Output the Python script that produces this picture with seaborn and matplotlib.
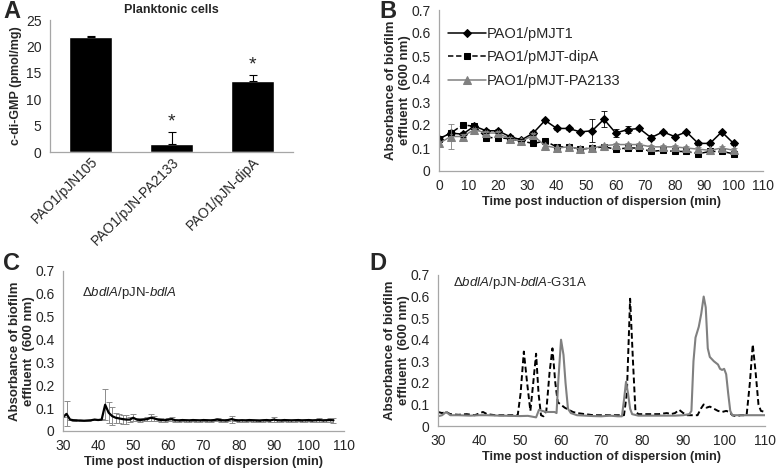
import numpy as np
import pandas as pd
import matplotlib
matplotlib.use('Agg')
import matplotlib.pyplot as plt
import seaborn as sns

# ---- Panel A: planktonic c-di-GMP
strains = ["PAO1/pJN105", "PAO1/pJN-PA2133", "PAO1/pJN-dipA"]
cdg_mean = [21.7, 1.5, 13.4]
cdg_err = [0.2, 2.3, 1.1]
cdg_star = [False, True, True]

# ---- Panel B: dispersion time course
b_time = [0, 4, 8, 12, 16, 20, 24, 28, 32, 36, 40, 44, 48, 52, 56, 60, 64, 68, 72, 76, 80, 84, 88, 92, 96, 100]
b_pmjt1 = [0.14, 0.165, 0.16, 0.195, 0.175, 0.175, 0.15, 0.135, 0.165, 0.22, 0.185, 0.185, 0.17,
           0.175, 0.225, 0.165, 0.18, 0.185, 0.145, 0.17, 0.15, 0.17, 0.12, 0.12, 0.17, 0.12]
b_pmjt1_err = [0.01, 0.01, 0.01, 0.008, 0.008, 0.008, 0.006, 0.006, 0.008, 0.006, 0.006, 0.006, 0.005,
               0.05, 0.035, 0.018, 0.015, 0.008, 0.012, 0.006, 0.006, 0.006, 0.006, 0.006, 0.006, 0.006]
b_dipa = [0.14, 0.165, 0.2, 0.195, 0.145, 0.145, 0.14, 0.13, 0.12, 0.13, 0.105, 0.105, 0.095,
          0.1, 0.105, 0.095, 0.1, 0.1, 0.085, 0.09, 0.085, 0.085, 0.075, 0.085, 0.085, 0.075]
b_pa2133 = [0.12, 0.15, 0.15, 0.18, 0.165, 0.165, 0.14, 0.13, 0.155, 0.11, 0.1, 0.105, 0.095,
            0.1, 0.11, 0.115, 0.115, 0.115, 0.105, 0.105, 0.105, 0.1, 0.095, 0.09, 0.1, 0.09]
b_pa2133_err = [0.01, 0.055, 0.01, 0.008, 0.008, 0.008, 0.006, 0.006, 0.01, 0.006, 0.005, 0.005, 0.005,
                0.005, 0.006, 0.008, 0.008, 0.008, 0.008, 0.006, 0.008, 0.008, 0.008, 0.006, 0.01, 0.008]

# ---- Panel C: dBdlA/pJN-bdlA
c_time = [30, 31, 32, 33, 34, 35, 36, 37, 38, 39, 40, 41, 42, 43, 44, 45, 46, 47, 48, 49,
          50, 51, 52, 53, 54, 55, 56, 57, 58, 59, 60, 61, 62, 63, 64, 65, 66, 67, 68, 69,
          70, 71, 72, 73, 74, 75, 76, 77, 78, 79, 80, 81, 82, 83, 84, 85, 86, 87, 88, 89,
          90, 91, 92, 93, 94, 95, 96, 97, 98, 99, 100, 101, 102, 103, 104, 105, 106, 107]
c_abs = [0.06, 0.075, 0.05, 0.047, 0.046, 0.046, 0.045, 0.046, 0.047, 0.05, 0.048, 0.05, 0.115, 0.08,
         0.065, 0.058, 0.055, 0.052, 0.05, 0.05, 0.058, 0.05, 0.048, 0.05, 0.052, 0.058, 0.055, 0.05,
         0.048, 0.047, 0.05, 0.052, 0.047, 0.046, 0.048, 0.047, 0.046, 0.048, 0.047, 0.046, 0.048, 0.047,
         0.046, 0.048, 0.05, 0.047, 0.046, 0.048, 0.052, 0.048, 0.046, 0.047, 0.046, 0.048, 0.047, 0.046,
         0.045, 0.047, 0.048, 0.046, 0.05, 0.047, 0.046, 0.048, 0.047, 0.046, 0.047, 0.048, 0.046, 0.047,
         0.048, 0.046, 0.047, 0.048, 0.046, 0.047, 0.048, 0.047]
c_err = [0.0, 0.055, 0.0, 0.004, 0.0, 0.004, 0.0, 0.004, 0.0, 0.004, 0.0, 0.004, 0.068, 0.045,
         0.04, 0.022, 0.02, 0.02, 0.02, 0.01, 0.015, 0.008, 0.008, 0.008, 0.008, 0.015, 0.012, 0.008,
         0.008, 0.006, 0.008, 0.01, 0.006, 0.006, 0.006, 0.006, 0.006, 0.006, 0.006, 0.006, 0.006, 0.006,
         0.006, 0.006, 0.008, 0.006, 0.006, 0.006, 0.015, 0.006, 0.006, 0.006, 0.006, 0.006, 0.006, 0.006,
         0.006, 0.006, 0.006, 0.006, 0.012, 0.006, 0.006, 0.006, 0.006, 0.006, 0.006, 0.006, 0.006, 0.006,
         0.006, 0.006, 0.006, 0.008, 0.006, 0.006, 0.01, 0.012]

# ---- Panel D: dBdlA/pJN-bdlA-G31A (two runs)
d_dash_time = [30, 31, 32, 33, 35, 37, 39, 41, 42, 44, 46, 48, 49.5, 50.2, 51, 51.8, 52.6, 53.3, 54,
               54.6, 55.2, 55.8, 56.5, 57.3, 58, 58.7, 59.3, 60, 61, 62, 63, 64, 66, 68, 70, 72, 74,
               75.5, 76.2, 77, 77.7, 78.3, 79, 82, 84, 86, 87, 88, 89, 90, 91, 92, 93.5, 94.3, 95,
               95.7, 96.5, 97.5, 98.5, 99.5, 100.5, 101.3, 102, 103, 104, 105.5, 106.3, 107, 107.7,
               108.4, 109, 110]
d_dash_abs = [0.065, 0.06, 0.065, 0.055, 0.052, 0.055, 0.05, 0.065, 0.055, 0.05, 0.05, 0.05, 0.05, 0.15,
              0.345, 0.2, 0.07, 0.2, 0.335, 0.15, 0.05, 0.045, 0.07, 0.25, 0.36, 0.2, 0.11, 0.1, 0.085,
              0.075, 0.065, 0.06, 0.055, 0.05, 0.05, 0.05, 0.05, 0.05, 0.15, 0.59, 0.3, 0.07, 0.055,
              0.055, 0.055, 0.06, 0.055, 0.06, 0.075, 0.06, 0.05, 0.05, 0.05, 0.08, 0.1, 0.085, 0.09,
              0.08, 0.07, 0.065, 0.07, 0.065, 0.05, 0.045, 0.05, 0.05, 0.2, 0.378, 0.25, 0.1, 0.07, 0.065]
d_gray_time = [30, 31, 32, 33, 35, 38, 40, 42, 45, 48, 50, 52, 54, 54.7, 55.5, 56.5, 57.5, 58.5, 59,
               59.4, 60.1, 60.7, 61.2, 61.8, 62.5, 64, 66, 68, 70, 72, 74, 75, 75.5, 76, 76.5, 77,
               77.5, 79, 82, 85, 88, 90, 91.5, 92, 92.5, 93, 93.8, 94.4, 95, 95.5, 96, 96.5, 97.5,
               98.5, 99, 99.5, 100, 100.5, 101, 101.5, 102, 104, 107, 110]
d_gray_abs = [0.045, 0.05, 0.065, 0.05, 0.05, 0.048, 0.05, 0.05, 0.048, 0.047, 0.046, 0.047, 0.04,
              0.075, 0.07, 0.065, 0.065, 0.065, 0.06, 0.2, 0.4, 0.33, 0.2, 0.08, 0.06, 0.05, 0.048,
              0.046, 0.045, 0.048, 0.045, 0.045, 0.12, 0.205, 0.15, 0.08, 0.055, 0.048, 0.048, 0.048,
              0.048, 0.05, 0.055, 0.07, 0.3, 0.41, 0.46, 0.52, 0.6, 0.55, 0.36, 0.32, 0.3, 0.285,
              0.265, 0.26, 0.265, 0.24, 0.15, 0.07, 0.05, 0.05, 0.05, 0.05]

sns.set_style("white")
plt.rcParams['font.family'] = ['Liberation Sans', 'DejaVu Sans']
plt.rcParams['mathtext.fontset'] = 'custom'
plt.rcParams['mathtext.rm'] = 'Liberation Sans'
plt.rcParams['mathtext.it'] = 'Liberation Sans:italic'

SPINE = '#a6a6a6'
TICKFS = 10
YLAB = "Absorbance of biofilm\neffluent  (600 nm)"
XLAB = "Time post induction of dispersion (min)"
ABS_TICKS = [0, 0.1, 0.2, 0.3, 0.4, 0.5, 0.6, 0.7]
ABS_LABELS = ['0', '0.1', '0.2', '0.3', '0.4', '0.5', '0.6', '0.7']

fig = plt.figure(figsize=(7.77, 4.70), dpi=100)


def box(l, t, r, b):
    return [l / 777, 1 - b / 470, (r - l) / 777, (b - t) / 470]


def style(ax):
    sns.despine(ax=ax)
    for s in ['left', 'bottom']:
        ax.spines[s].set_color(SPINE)
        ax.spines[s].set_linewidth(0.9)
    ax.tick_params(axis='both', which='both', direction='out', color=SPINE, width=0.9,
                   labelsize=TICKFS, pad=2)
    ax.tick_params(which='major', length=4)


def time_axes(ax, x0, ticks):
    ax.set_xlim(x0, 110)
    ax.set_ylim(0, 0.7)
    ax.set_xticks(ticks)
    ax.set_yticks(ABS_TICKS)
    ax.set_yticklabels(ABS_LABELS)
    style(ax)
    ax.set_xlabel(XLAB, fontsize=9.2, fontweight='bold', labelpad=2)
    ax.set_ylabel(YLAB, fontsize=9.5, fontweight='bold', labelpad=0)


axA = fig.add_axes(box(50, 20, 293, 152))
axB = fig.add_axes(box(439, 10, 763, 171))
axC = fig.add_axes(box(63, 271, 344, 431))
axD = fig.add_axes(box(438, 275, 765, 426))

# A
dfA = pd.DataFrame({'strain': strains, 'cdg': cdg_mean})
sns.barplot(data=dfA, x='strain', y='cdg', color='black', width=0.53, ax=axA, saturation=1)
xs = np.arange(len(strains))
axA.errorbar(xs, cdg_mean, yerr=[np.zeros(len(xs)), cdg_err], fmt='none', ecolor='black',
             elinewidth=0.8, capsize=3, capthick=0.8)
for i, (m, e, s) in enumerate(zip(cdg_mean, cdg_err, cdg_star)):
    if s:
        axA.text(i, m + e + 0.3, '*', ha='center', va='bottom', fontsize=14)
axA.set_ylim(0, 25)
axA.set_xlim(-0.5, 2.5)
axA.set_yticks([0, 5, 10, 15, 20, 25])
style(axA)
axA.set_xticks([-0.5, 0.5, 1.5, 2.5], minor=True)
axA.tick_params(axis='x', which='major', length=0)
axA.tick_params(axis='x', which='minor', length=4)
axA.set_xticks(xs)
axA.set_xticklabels(strains, rotation=45, ha='right', rotation_mode='anchor', fontsize=TICKFS)
axA.set_xlabel('')
axA.set_ylabel('c-di-GMP (pmol/mg)', fontsize=9, fontweight='bold', labelpad=3)
axA.set_title('Planktonic cells', fontsize=9, fontweight='bold', pad=5, x=0.5)

# B
dfB = pd.DataFrame({'t': b_time, 'pmjt1': b_pmjt1, 'dipa': b_dipa, 'pa2133': b_pa2133})
sns.lineplot(data=dfB, x='t', y='pmjt1', color='black', marker='D', markersize=4.5, lw=1.1,
             markeredgecolor='black', label='PAO1/pMJT1', ax=axB)
sns.lineplot(data=dfB, x='t', y='dipa', color='black', marker='s', markersize=5, lw=1.1,
             markeredgecolor='black', linestyle=(0, (3.5, 1.8)), label='PAO1/pMJT-dipA', ax=axB)
sns.lineplot(data=dfB, x='t', y='pa2133', color='#808080', marker='^', markersize=5.5, lw=1.1,
             markeredgecolor='#808080', label='PAO1/pMJT-PA2133', ax=axB)
axB.errorbar(b_time, b_pmjt1, yerr=b_pmjt1_err, fmt='none', ecolor='black', elinewidth=0.6,
             capsize=2, capthick=0.6)
axB.errorbar(b_time, b_pa2133, yerr=b_pa2133_err, fmt='none', ecolor='#808080', elinewidth=0.6,
             capsize=2, capthick=0.6)
time_axes(axB, 0, range(0, 111, 10))
axB.legend(loc='upper left', bbox_to_anchor=(0.0, 0.95), frameon=False, fontsize=10.5,
           handlelength=2.6, handletextpad=0.1, labelspacing=0.65, borderaxespad=0.2)

# C
dfC = pd.DataFrame({'t': c_time, 'abs': c_abs})
axC.errorbar(c_time, c_abs, yerr=c_err, fmt='none', ecolor='#8c8c8c', elinewidth=0.7,
             capsize=2, capthick=0.7)
sns.lineplot(data=dfC, x='t', y='abs', color='black', lw=1.6, ax=axC)
time_axes(axC, 30, range(30, 111, 10))
axC.text(0.068, 0.86, r'$\it{\Delta bdlA}$/pJN-$\it{bdlA}$', transform=axC.transAxes,
         fontsize=9.5, va='center')

# D
dfDd = pd.DataFrame({'t': d_dash_time, 'abs': d_dash_abs})
dfDg = pd.DataFrame({'t': d_gray_time, 'abs': d_gray_abs})
sns.lineplot(data=dfDd, x='t', y='abs', color='black', lw=1.4, linestyle=(0, (3, 1.6)), ax=axD)
sns.lineplot(data=dfDg, x='t', y='abs', color='#808080', lw=1.5, ax=axD)
time_axes(axD, 30, range(30, 111, 10))
axD.text(0.045, 0.945, r'$\it{\Delta bdlA}$/pJN-$\it{bdlA}$-G31A', transform=axD.transAxes,
         fontsize=9.5, va='center')

# panel letters
for lab, x, y in [('A', 3, 0), ('B', 379, 0), ('C', 3, 252), ('D', 369, 252)]:
    fig.text(x / 777, 1 - y / 470, lab, fontsize=17, fontweight='bold', va='top', ha='left')

fig.savefig('out.png', dpi=100)
